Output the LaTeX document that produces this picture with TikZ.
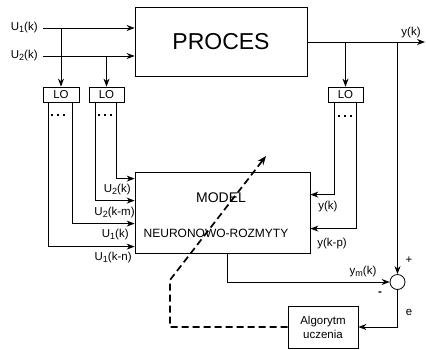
\documentclass[tikz,border=0pt]{standalone}
\usepackage{fontspec}
\setmainfont{Liberation Sans}
\usetikzlibrary{arrows.meta}
\newcommand\lbl{\fontsize{11.5}{13}\selectfont}
\newcommand\sbs[1]{\raisebox{-0.3ex}{\fontsize{9}{10}\selectfont #1}}
\begin{document}
\begin{tikzpicture}[x=1pt,y=-1pt,
  line width=0.8pt,
  arr/.style={-{Stealth[length=8pt,width=6pt]}},
  box/.style={draw,rectangle,inner sep=0pt},
  lobox/.style={box,minimum height=15pt,font=\lbl},
  txt/.style={inner sep=0pt,font=\lbl},
  dashline/.style={line width=1.7pt,dash pattern=on 7pt off 4pt},
  dotsq/.style={fill=black,draw=none}]
\useasboundingbox (0,0) rectangle (426,349);
% blocks
\node[box,minimum width=172pt,minimum height=69pt,font=\fontsize{23}{26}\selectfont] (proces) at (221,41.5) {PROCES};
\node[box,minimum width=175pt,minimum height=81pt] (model) at (222.5,212.5) {};
\node[txt,font=\fontsize{14}{16}\selectfont] (modeltxt) at (221,198) {MODEL};
\node[txt,font=\fontsize{12}{14}\selectfont] (neurotxt) at (216,233) {NEURONOWO-ROZMYTY};
\node[lobox,minimum width=36pt] (lo1) at (61,94.5) {LO};
\node[lobox,minimum width=35pt] (lo2) at (106.5,94.5) {LO};
\node[lobox,minimum width=35pt] (lo3) at (345.5,94.5) {LO};
\node[box,minimum width=70pt,minimum height=42pt,align=center,font=\fontsize{11.5}{14}\selectfont] (alg) at (323,327) {Algorytm\\uczenia};
\node[draw,circle,minimum size=15pt,inner sep=0pt] (sum) at (397.5,282) {};
% inputs
\coordinate (u1) at (43,28);
\coordinate (u2) at (43,56);
\node[txt,anchor=east] (u1l) at (38,28) {U\sbs{1}(k)};
\node[txt,anchor=east] (u2l) at (38,56) {U\sbs{2}(k)};
\draw[arr] (u1) -- (proces.west |- u1);
\draw[arr] (u2) -- (proces.west |- u2);
\draw[arr] (lo1.north |- u1) -- (lo1.north);
\draw[arr] (lo2.north |- u2) -- (lo2.north);
% LO outputs to model
\draw[arr] ([xshift=6]lo1.south west) |- ([yshift=-75]model.north west);
\draw[arr] ([xshift=30]lo1.south west) |- ([yshift=-52]model.north west);
\draw[arr] ([xshift=7]lo2.south west) |- ([yshift=-29]model.north west);
\draw[arr] ([xshift=28]lo2.south west) |- ([yshift=-7]model.north west);
\draw[arr] ([xshift=7]lo3.south west) |- ([yshift=-23]model.north east);
\draw[arr] ([xshift=29]lo3.south west) |- ([yshift=-57]model.north east);
% dots
\foreach \x in {52,58,64}{\fill (\x-1.3,113.7) rectangle (\x+1.3,116.3);}
\foreach \x in {99,105,111}{\fill (\x-1.3,113.7) rectangle (\x+1.3,116.3);}
\foreach \x in {339,345,351}{\fill (\x-1.3,114.7) rectangle (\x+1.3,117.3);}
% input labels
\node[txt,anchor=east] (l1) at (131,190) {U\sbs{2}(k)};
\node[txt,anchor=east] (l2) at (135,213) {U\sbs{2}(k-m)};
\node[txt,anchor=east] (l3) at (129,235) {U\sbs{1}(k)};
\node[txt,anchor=east] (l4) at (132,258) {U\sbs{1}(k-n)};
\node[txt,anchor=west] (l5) at (318,207) {y(k)};
\node[txt,anchor=west] (l6) at (317,244) {y(k-p)};
% output
\coordinate (yend) at (425,42);
\draw[arr] (proces.east |- yend) -- (yend);
\node[txt] (yl) at (411,33) {y(k)};
\draw[arr] (lo3.north |- yend) -- (lo3.north);
\draw[arr] (sum.north |- yend) -- (sum.north);
% model output
\draw[arr] ([xshift=4.5]model.south) |- (sum.west);
\node[txt] (yml) at (363,272) {y\sbs{m}(k)};
\node[txt] (plus) at (409,260) {+};
\node[txt,font=\bfseries\lbl] (minus) at (380,294) {-};
\draw[arr] (sum.south) |- (alg.east);
\node[txt] (el) at (409,312) {e};
% learning dashed arrow
\coordinate (c1) at (170,280);
\coordinate (c2) at (266,156);
\draw[dashline,-{Stealth[length=9pt,width=7pt]}] (alg.west) -| (c1) -- (c2);
\end{tikzpicture}
\end{document}
